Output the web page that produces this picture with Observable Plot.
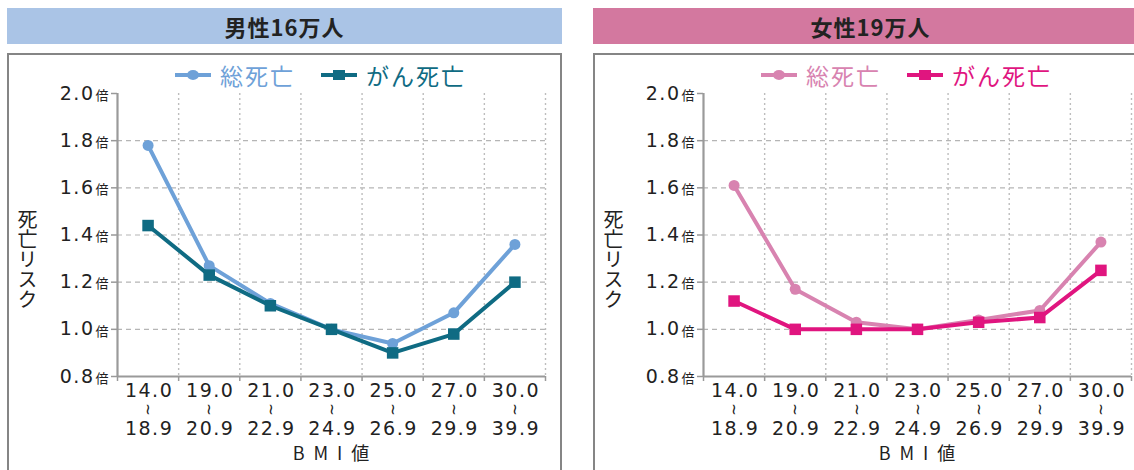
<!DOCTYPE html>
<html lang="ja">
<head>
<meta charset="utf-8">
<script src="https://cdn.jsdelivr.net/npm/d3@7"></script>
<script src="https://cdn.jsdelivr.net/npm/@observablehq/plot@0.6"></script>
<style>
  html, body { margin: 0; padding: 0; background: #fff; }
  body { width: 1134px; height: 470px; overflow: hidden; position: relative;
         font-family: "Noto Sans CJK JP", "Noto Sans", sans-serif; color: #222; }
  .panel { position: absolute; top: 0; width: 555px; height: 470px; }
  .header { position: absolute; left: 0; top: 8px; width: 555px; height: 36px;
            line-height: 36px; text-align: center; font-weight: bold; font-size: 22px;
            letter-spacing: 1px; color: #222; }
  .box { position: absolute; left: 0; top: 53px; width: 551px; height: 430px;
         border: 2px solid #858585; box-sizing: content-box; }
  .chart { position: absolute; left: 0; top: 53px; }
  .legend { position: absolute; top: 61px; left: 168px; display: flex; align-items: center;
            font-size: 23px; line-height: 28px; letter-spacing: 2px; white-space: nowrap; }
  .item { display: flex; align-items: center; }
  .item + .item { margin-left: 26px; }
  .sw { position: relative; width: 36px; height: 4px; margin-right: 9px; }
  .sw .ln { position: absolute; left: 0; top: 0; width: 36px; height: 4px; }
  .sw .mk { position: absolute; left: 12px; top: -3px; width: 12px; height: 10px; }
  .sw .mk.c { border-radius: 50%; }
  .ylab { position: absolute; left: 10px; top: 209px; font-size: 20px; line-height: 20px;
          writing-mode: vertical-rl; text-orientation: upright; color: #222; }
</style>
</head>
<body>
<script>
// ---- data ----
const bmiFrom = ["14.0", "19.0", "21.0", "23.0", "25.0", "27.0", "30.0"];
const bmiTo   = ["18.9", "20.9", "22.9", "24.9", "26.9", "29.9", "39.9"];
const yTicks  = [0.8, 1.0, 1.2, 1.4, 1.6, 1.8, 2.0];
const seriesNames = ["総死亡", "がん死亡"];
const panelTitles = ["男性16万人", "女性19万人"];
const xTitle = "BMI値";
const yTitle = "死亡リスク";
const unit = "倍";
const rangeMark = "~";
const maleTotal    = [1.78, 1.27, 1.11, 1.00, 0.94, 1.07, 1.36];
const maleCancer   = [1.44, 1.23, 1.10, 1.00, 0.90, 0.98, 1.20];
const femaleTotal  = [1.61, 1.17, 1.03, 1.00, 1.04, 1.08, 1.37];
const femaleCancer = [1.12, 1.00, 1.00, 1.00, 1.03, 1.05, 1.25];

const panels = [
  {title: panelTitles[0], total: maleTotal, cancer: maleCancer,
   head: "#aac4e6", cTotal: "#6ea1d8", cCancer: "#0f6b83", left: 7},
  {title: panelTitles[1], total: femaleTotal, cancer: femaleCancer,
   head: "#d3789f", cTotal: "#d883b0", cCancer: "#e0157f", left: 593}
];

const FONT = "'Noto Sans CJK JP', 'Noto Sans', sans-serif";
const NUMFONT = "'DejaVu Sans', sans-serif";

function rows(vals) {
  return vals.map((v, i) => ({i, pos: i + 0.5, v, from: bmiFrom[i], to: bmiTo[i]}));
}

function makePlot(p) {
  const tot = rows(p.total), can = rows(p.cancer);
  const bounds = d3.range(bmiFrom.length + 1);
  const inner = bounds.slice(1);
  const gridY = yTicks.slice(1, -1);
  const svg = Plot.plot({
    width: 555, height: 417,
    marginLeft: 110, marginRight: 17, marginTop: 40, marginBottom: 94,
    style: {fontFamily: FONT, background: "transparent", color: "#222", overflow: "visible"},
    x: {type: "linear", domain: [0, bmiFrom.length], axis: null},
    y: {type: "linear", domain: [yTicks[0], yTicks[yTicks.length - 1]], axis: null},
    marks: [
      Plot.ruleY(gridY, {stroke: "#b5b5b5", strokeWidth: 1.2, strokeDasharray: "5,4"}),
      Plot.ruleX(inner, {stroke: "#bdbdbd", strokeWidth: 1.4, strokeDasharray: "2,3"}),
      Plot.axisY({ticks: yTicks, tickFormat: d => d.toFixed(1), tickSize: 6, tickPadding: 17,
                  label: null, fontSize: 19, fontFamily: NUMFONT,
                  stroke: "#999", strokeWidth: 1.5, color: "#222"}),
      Plot.text(yTicks, {y: d => d, frameAnchor: "left", text: () => unit, dx: -9, dy: 2,
                         textAnchor: "end", fontSize: 13, fill: "#222"}),
      Plot.axisX({ticks: bounds, tickSize: 5, tickFormat: () => "", label: null,
                  stroke: "#999", strokeWidth: 1.5}),
      Plot.ruleX([0], {stroke: "#9a9a9a", strokeWidth: 2.2}),
      Plot.ruleY([yTicks[0]], {stroke: "#9a9a9a", strokeWidth: 2.2}),
      Plot.text(tot, {x: "pos", y: yTicks[0], text: "from", dy: 14, dx: 1, fontSize: 19,
                      fontFamily: NUMFONT, fill: "#222"}),
      Plot.text(tot, {x: "pos", y: yTicks[0], text: () => rangeMark, rotate: 90, dy: 33, dx: 0,
                      fontSize: 15, fontFamily: NUMFONT, fill: "#222"}),
      Plot.text(tot, {x: "pos", y: yTicks[0], text: "to", dy: 52, dx: 1, fontSize: 19,
                      fontFamily: NUMFONT, fill: "#222"}),
      Plot.text([xTitle], {frameAnchor: "bottom", dy: 83, dx: 4, fontSize: 18, fill: "#222"}),
      Plot.line(tot, {x: "pos", y: "v", stroke: p.cTotal, strokeWidth: 4}),
      Plot.dot(tot, {x: "pos", y: "v", r: 5.5, fill: p.cTotal, symbol: "circle"}),
      Plot.line(can, {x: "pos", y: "v", stroke: p.cCancer, strokeWidth: 4}),
      Plot.dot(can, {x: "pos", y: "v", r: 6.5, fill: p.cCancer, symbol: "square"})
    ]
  });
  // widen the numeric labels and the axis title like the reference's wide lettering
  d3.select(svg).selectAll("text").each(function() {
    const t = this.textContent;
    if (/^[0-9.]+$/.test(t)) this.style.letterSpacing = "1.5px";
    else if (t === xTitle) this.style.letterSpacing = "9px";
  });
  return svg;
}

for (const p of panels) {
  const panel = document.createElement("div");
  panel.className = "panel";
  panel.style.left = p.left + "px";

  const head = document.createElement("div");
  head.className = "header";
  head.style.background = p.head;
  head.textContent = p.title;
  panel.appendChild(head);

  const box = document.createElement("div");
  box.className = "box";
  panel.appendChild(box);

  const chart = document.createElement("div");
  chart.className = "chart";
  chart.appendChild(makePlot(p));
  panel.appendChild(chart);

  const legend = document.createElement("div");
  legend.className = "legend";
  [[seriesNames[0], p.cTotal, "c"], [seriesNames[1], p.cCancer, "s"]].forEach(([name, col, shape]) => {
    const item = document.createElement("div");
    item.className = "item";
    item.innerHTML = `<div class="sw"><div class="ln" style="background:${col}"></div>` +
      `<div class="mk ${shape}" style="background:${col}"></div></div><span style="color:${col}">${name}</span>`;
    legend.appendChild(item);
  });
  panel.appendChild(legend);

  const ylab = document.createElement("div");
  ylab.className = "ylab";
  ylab.textContent = yTitle;
  panel.appendChild(ylab);

  document.body.appendChild(panel);
}
</script>
</body>
</html>
